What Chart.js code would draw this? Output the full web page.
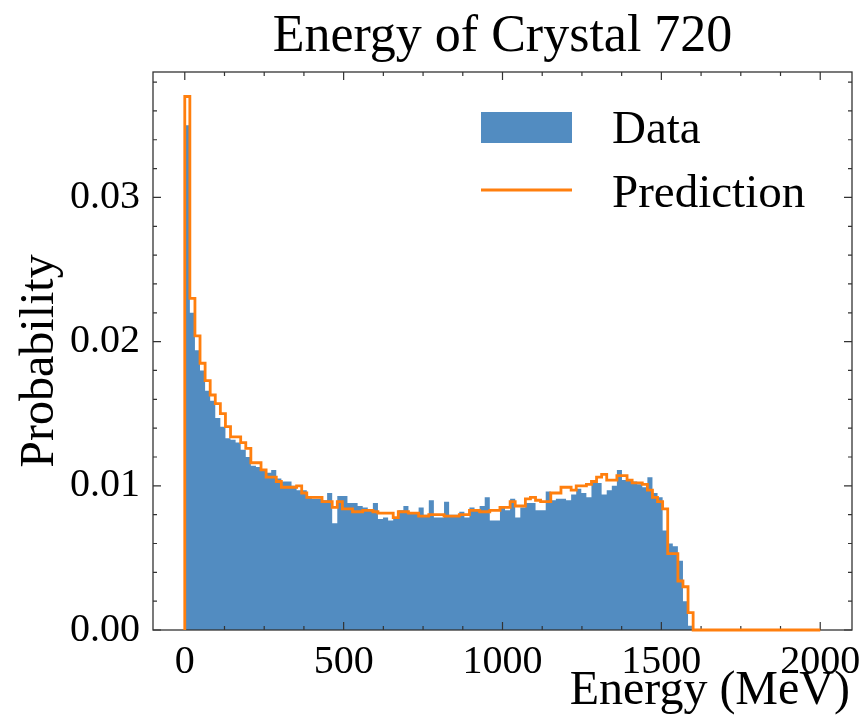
<!DOCTYPE html>
<html><head><meta charset="utf-8">
<script src="https://cdn.jsdelivr.net/npm/chart.js@4.4.1/dist/chart.umd.min.js"></script>
<style>html,body{margin:0;padding:0;background:#fff;}#wrap{width:864px;height:726px;position:relative;}</style>
</head><body><div id="wrap"><canvas id="c"></canvas></div>
<script>
// ---- data ----
const binWidth = 16; // MeV, histogram bins starting at 0
const seriesNames = ['Data', 'Prediction'];
const dataProb = [
 0.0350,0.0220,0.0194,0.0180,0.0166,0.0159,0.0147,0.0141,0.0133,0.0132,
 0.0130,0.0125,0.0120,0.0114,0.0113,0.0111,0.0109,0.0111,0.0105,0.0103,
 0.0103,0.0100,0.0097,0.0097,0.0093,0.0091,0.0091,0.0090,0.0095,0.0074,
 0.0093,0.0093,0.0088,0.0088,0.0086,0.0085,0.0084,0.0088,0.0077,0.0078,
 0.0076,0.0078,0.0083,0.0086,0.0081,0.0081,0.0085,0.0080,0.0090,0.0078,
 0.0078,0.0089,0.0080,0.0080,0.0082,0.0078,0.0085,0.0084,0.0086,0.0092,
 0.0076,0.0076,0.0086,0.0083,0.0091,0.0078,0.0085,0.0088,0.0088,0.0083,
 0.0083,0.0096,0.0090,0.0091,0.0091,0.0090,0.0094,0.0098,0.0095,0.0092,
 0.0102,0.0102,0.0094,0.0097,0.0100,0.0111,0.0104,0.0104,0.0103,0.0101,
 0.0099,0.0106,0.0095,0.0092,0.0069,0.0060,0.0058,0.0048,0.0020,0.0003,
 0,0,0,0,0,0,0,0,0,0,
 0,0,0,0,0,0,0,0,0,0,
 0,0,0,0,0
];
const predProb = [
 0.0370,0.0230,0.0204,0.0185,0.0173,0.0163,0.0157,0.0150,0.0141,0.0134,
 0.0134,0.0130,0.0126,0.0116,0.0116,0.0111,0.0106,0.0106,0.0103,0.0099,
 0.0099,0.0099,0.0100,0.0095,0.0092,0.0092,0.0092,0.0089,0.0089,0.0085,
 0.0089,0.0084,0.0084,0.0082,0.0082,0.0083,0.0083,0.0082,0.0081,0.0081,
 0.0081,0.0078,0.0082,0.0082,0.0081,0.0081,0.0079,0.0079,0.0080,0.0080,
 0.0080,0.0079,0.0079,0.0079,0.0080,0.0080,0.0083,0.0083,0.0082,0.0082,
 0.0083,0.0083,0.0085,0.0085,0.0089,0.0086,0.0086,0.0091,0.0092,0.0090,
 0.0089,0.0089,0.0095,0.0095,0.0099,0.0099,0.0097,0.0100,0.0100,0.0101,
 0.0103,0.0106,0.0108,0.0104,0.0104,0.0107,0.0107,0.0104,0.0102,0.0102,
 0.0101,0.0097,0.0092,0.0089,0.0084,0.0053,0.0053,0.0034,0.0030,0.0012,
 0,0,0,0,0,0,0,0,0,0,
 0,0,0,0,0,0,0,0,0,0,
 0,0,0,0,0
];
const xTickLabels = [0, 500, 1000, 1500, 2000];
const yTickLabels = [0.00, 0.01, 0.02, 0.03];
const titleText = 'Energy of Crystal 720';
const xTitle = 'Energy (MeV)';
const yTitle = 'Probability';

// ---- build histogram step points ----
const edges = dataProb.map((_, i) => i * binWidth).concat([dataProb.length * binWidth]);
function histPoints(vals, closed) {
  const pts = [];
  if (closed) pts.push({x: edges[0], y: 0});
  vals.forEach((v, i) => pts.push({x: edges[i], y: v}));
  pts.push({x: edges[vals.length], y: vals[vals.length - 1]});
  if (closed) pts.push({x: edges[vals.length], y: 0});
  return pts;
}

const FONT = '"Liberation Serif", "DejaVu Serif", serif';
const BLUE = 'rgb(82,140,193)';
const ORANGE = '#ff7f0e';

const frameTicks = {
  id: 'frameTicks',
  afterDatasetDraw(chart, args) {
    if (args.index !== 0) return;
    const {ctx, chartArea: ca} = chart;
    const xs = chart.scales.x, ys = chart.scales.y;
    ctx.save();
    ctx.strokeStyle = '#333';
    ctx.lineWidth = 1.2;
    const MAJ = 8, MIN = 4;
    for (let k = 0; k <= 16; k++) {
      const v = k * 125;
      const px = xs.getPixelForValue(v);
      const L = (k % 4 === 0) ? MAJ : MIN;
      ctx.beginPath();
      ctx.moveTo(px, ca.bottom); ctx.lineTo(px, ca.bottom - L);
      ctx.moveTo(px, ca.top); ctx.lineTo(px, ca.top + L);
      ctx.stroke();
    }
    for (let k = 0; k <= 19; k++) {
      const v = k * 0.002;
      if (v > ys.max) break;
      const py = ys.getPixelForValue(v);
      const L = (k % 5 === 0) ? MAJ : MIN;
      ctx.beginPath();
      ctx.moveTo(ca.left, py); ctx.lineTo(ca.left + L, py);
      ctx.moveTo(ca.right, py); ctx.lineTo(ca.right - L, py);
      ctx.stroke();
    }
    ctx.lineWidth = 1.3;
    ctx.strokeRect(ca.left, ca.top, ca.right - ca.left, ca.bottom - ca.top);
    ctx.restore();
  }
};

const insideLegend = {
  id: 'insideLegend',
  afterDraw(chart) {
    const {ctx, chartArea: ca} = chart;
    const ds = chart.data.datasets;
    ctx.save();
    const lx = ca.left + 328;
    ctx.fillStyle = ds[0].backgroundColor;
    ctx.fillRect(lx, ca.top + 40, 91, 31);
    ctx.strokeStyle = ds[1].borderColor;
    ctx.lineWidth = 2.8;
    ctx.beginPath();
    ctx.moveTo(lx, ca.top + 118); ctx.lineTo(lx + 91, ca.top + 118);
    ctx.stroke();
    ctx.fillStyle = '#000';
    ctx.font = '47px ' + FONT;
    ctx.textBaseline = 'alphabetic';
    ctx.textAlign = 'left';
    ctx.fillText(ds[0].label, lx + 131, ca.top + 71);
    ctx.fillText(ds[1].label, lx + 131, ca.top + 135);
    // x-axis title (right aligned, like the reference)
    ctx.font = '48px ' + FONT;
    ctx.textAlign = 'right';
    ctx.fillText(xTitle, ca.right - 2, 704);
    // y-axis title
    ctx.save();
    ctx.font = '48px ' + FONT;
    ctx.textAlign = 'center';
    ctx.textBaseline = 'middle';
    ctx.translate(40, (ca.top + ca.bottom) / 2 + 10);
    ctx.rotate(-Math.PI / 2);
    ctx.fillText(yTitle, 0, 0);
    ctx.restore();
    ctx.restore();
  }
};

new Chart(document.getElementById('c'), {
  type: 'line',
  data: {
    datasets: [
      {
        label: seriesNames[0],
        data: histPoints(dataProb, false),
        stepped: 'before',
        backgroundColor: BLUE,
        borderColor: 'rgba(0,0,0,0)',
        borderWidth: 1,
        fill: 'origin',
        pointRadius: 0,
        order: 2
      },
      {
        label: seriesNames[1],
        data: histPoints(predProb, true),
        stepped: 'before',
        borderColor: ORANGE,
        backgroundColor: ORANGE,
        borderWidth: 2.8,
        fill: false,
        pointRadius: 0,
        clip: false,
        order: 1
      }
    ]
  },
  options: {
    responsive: true,
    maintainAspectRatio: false,
    animation: false,
    layout: {padding: {top: 3.6, right: 12, left: 0, bottom: 0}},
    plugins: {
      legend: {display: false},
      tooltip: {enabled: false},
      title: {
        display: true,
        text: titleText,
        fullSize: false,
        color: '#000',
        font: {family: FONT, size: 52, weight: 'normal', lineHeight: 1.2},
        padding: {top: 3, bottom: 3}
      }
    },
    scales: {
      x: {
        type: 'linear',
        min: -100, max: 2100,
        grid: {display: false, drawTicks: false},
        border: {display: false},
        afterBuildTicks: s => { s.ticks = xTickLabels.map(v => ({value: v})); },
        afterFit: s => { s.height = 96; s.paddingLeft = 0; s.paddingRight = 0; },
        ticks: {
          color: '#000', padding: 8, maxRotation: 0,
          font: {family: FONT, size: 40},
          callback: v => String(v)
        },
        title: {display: false}
      },
      y: {
        type: 'linear',
        min: 0, max: 0.0387,
        grid: {display: false, drawTicks: false},
        border: {display: false},
        afterBuildTicks: s => { s.ticks = yTickLabels.map(v => ({value: v})); },
        afterFit: s => { s.width = 153; s.paddingTop = 0; s.paddingBottom = 0; },
        ticks: {
          color: '#000', padding: 13,
          font: {family: FONT, size: 40},
          callback: v => Number(v).toFixed(2)
        },
        title: {display: false}
      }
    }
  },
  plugins: [frameTicks, insideLegend]
});
</script>
</body></html>
